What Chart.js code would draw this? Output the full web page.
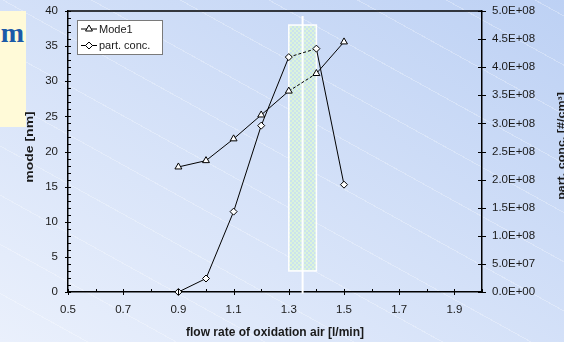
<!DOCTYPE html>
<html>
<head>
<meta charset="utf-8">
<script src="https://cdn.jsdelivr.net/npm/chart.js@4.4.1/dist/chart.umd.min.js"></script>
<style>
  html, body { margin: 0; padding: 0; }
  body {
    width: 564px; height: 342px; overflow: hidden; position: relative;
    background:
      repeating-linear-gradient(29deg, rgba(255,255,255,0) 0px, rgba(255,255,255,0) 42px, rgba(255,255,255,0.28) 42px, rgba(255,255,255,0.28) 43px),
      linear-gradient(to bottom left, #bdd1f4, #eaf0fc);
  }
  #note { position: absolute; left: 0; top: 11px; width: 26px; height: 116px; background: #fffad8; overflow: hidden; }
  #note span { position: absolute; right: 2px; top: 6px; line-height: 1; font: bold 28px "Liberation Serif", serif; color: #1b5aa8; }
  #chart { position: absolute; left: 0; top: 0; }
</style>
</head>
<body>
<div id="note"><span>m</span></div>
<canvas id="chart" width="564" height="342"></canvas>
<script>
(function() {
    // data block
    const flowRate = [0.9, 1.0, 1.1, 1.2, 1.3, 1.4, 1.5]
    const mode1 = [17.8, 18.7, 21.8, 25.2, 28.6, 31.1, 35.6]
    const partConc = [0, 2.4e7, 1.43e8, 2.96e8, 4.18e8, 4.33e8, 1.91e8]
    const seriesNames = ['Mode1', 'part. conc.']
    const dashedFrom = 4 // segment 1.3 -> 1.4 is dashed

    // highlighted band and marker line
    const bandX = [1.3, 1.4]
    const bandY = [3, 38]
    const markerX = 1.35

    const FONT = '"Liberation Sans", Arial, sans-serif'
    const TXT = '#1a1a1a'

    const fmtSci = v => {
        if (v === 0) return '0.0E+00'
        const e = Math.floor(Math.log10(Math.abs(v)) + 1e-9)
        const m = v / Math.pow(10, e)
        return m.toFixed(1) + 'E' + (e < 0 ? '-' : '+') + String(Math.abs(e)).padStart(2, '0')
    }

    // checker pattern for the band
    const pc = document.createElement('canvas')
    pc.width = 4; pc.height = 4
    const pctx = pc.getContext('2d')
    pctx.fillStyle = '#cbe3ee'
    pctx.fillRect(0, 0, 4, 4)
    pctx.fillStyle = '#dcf4da'
    pctx.fillRect(0, 0, 2, 2)
    pctx.fillRect(2, 2, 2, 2)

    const bandPlugin = {
        id: 'band',
        beforeDatasetsDraw(chart) {
            const { ctx, scales: { x, y } } = chart
            const x0 = x.getPixelForValue(bandX[0]), x1 = x.getPixelForValue(bandX[1])
            const y0 = y.getPixelForValue(bandY[1]), y1 = y.getPixelForValue(bandY[0])
            ctx.save()
            ctx.fillStyle = ctx.createPattern(pc, 'repeat')
            ctx.fillRect(x0, y0, x1 - x0, y1 - y0)
            ctx.strokeStyle = '#fff'
            ctx.lineWidth = 1.5
            ctx.strokeRect(x0, y0, x1 - x0, y1 - y0)
            const xm = x.getPixelForValue(markerX)
            ctx.lineWidth = 2
            ctx.beginPath()
            ctx.moveTo(xm, y.getPixelForValue(39.3))
            ctx.lineTo(xm, y.getPixelForValue(-0.2))
            ctx.stroke()
            ctx.restore()
        }
    }

    const frame = {
        id: 'frame',
        afterDraw(chart) {
            const { ctx, chartArea: { top, bottom, left, right }, scales: { x, y, y1 } } = chart
            ctx.save()
            ctx.strokeStyle = '#000'
            ctx.lineWidth = 1.5
            ctx.beginPath()
            ctx.moveTo(left, top); ctx.lineTo(right, top)
            ctx.stroke()
            ctx.lineWidth = 1
            ctx.beginPath()
            // x ticks
            x.ticks.forEach((t, i) => {
                const px = Math.round(x.getPixelForValue(t.value)) + 0.5
                ctx.moveTo(px, bottom - 3)
                ctx.lineTo(px, i % 2 === 0 ? bottom + 3 : bottom)
            })
            // left ticks, minor every 1
            for (let v = 0; v <= 40; v++) {
                const py = Math.round(y.getPixelForValue(v)) + 0.5
                if (v % 5 === 0) { ctx.moveTo(left - 3, py); ctx.lineTo(left + 3, py) }
                else { ctx.moveTo(left, py); ctx.lineTo(left + 3, py) }
            }
            // right ticks
            y1.ticks.forEach(t => {
                const py = Math.round(y1.getPixelForValue(t.value)) + 0.5
                ctx.moveTo(right - 4, py); ctx.lineTo(right + 4, py)
            })
            ctx.stroke()

            // axis titles (vertical, stretched like the original)
            ctx.fillStyle = TXT
            ctx.font = 'bold 10px ' + FONT
            ctx.textAlign = 'center'
            ctx.textBaseline = 'middle'
            ctx.save()
            ctx.translate(30, 147)
            ctx.rotate(-Math.PI / 2)
            ctx.scale(1.4, 1)
            ctx.fillText('mode [nm]', 0, 0)
            ctx.restore()
            ctx.save()
            ctx.translate(562, 146)
            ctx.rotate(-Math.PI / 2)
            ctx.scale(1.25, 1)
            ctx.fillText('part. conc. [#/cm³]', 0, 0)
            ctx.restore()

            // legend
            const lx = 77, ly = 20, lw = 85, lh = 34
            ctx.fillStyle = '#fff'
            ctx.fillRect(lx, ly, lw, lh)
            ctx.strokeStyle = '#7a7a7a'
            ctx.lineWidth = 1
            ctx.strokeRect(lx + 0.5, ly + 0.5, lw, lh)
            const styles = ['triangle', 'rectRot']
            const radii = [4, 3.5]
            seriesNames.forEach((name, i) => {
                const cy = ly + 9 + i * 16.5
                ctx.strokeStyle = '#000'
                ctx.beginPath()
                ctx.moveTo(81, cy); ctx.lineTo(97, cy)
                ctx.stroke()
                ctx.fillStyle = '#fff'
                Chart.helpers.drawPoint(ctx, { pointStyle: styles[i], radius: radii[i], rotation: 0, borderWidth: 1 }, 89, cy)
                ctx.fillStyle = TXT
                ctx.font = '11px ' + FONT
                ctx.textAlign = 'left'
                ctx.fillText(name, 99, cy + 0.5)
            })
            ctx.restore()
        }
    }

    const dashSeg = { borderDash: c => c.p0DataIndex === dashedFrom ? [3, 2] : undefined }

    const config = {
        type: 'line',
        data: {
            datasets: [{
                label: seriesNames[0],
                data: flowRate.map((v, i) => ({ x: v, y: mode1[i] })),
                yAxisID: 'y',
                borderColor: '#000',
                borderWidth: 1,
                pointStyle: 'triangle',
                pointRadius: 4,
                pointBackgroundColor: '#fff',
                pointBorderColor: '#000',
                pointBorderWidth: 1,
                segment: dashSeg,
                clip: false
            }, {
                label: seriesNames[1],
                data: flowRate.map((v, i) => ({ x: v, y: partConc[i] })),
                yAxisID: 'y1',
                borderColor: '#000',
                borderWidth: 1,
                pointStyle: 'rectRot',
                pointRadius: 3.5,
                pointBackgroundColor: '#fff',
                pointBorderColor: '#000',
                pointBorderWidth: 1,
                segment: dashSeg,
                clip: false
            }]
        },
        options: {
            responsive: false,
            animation: false,
            devicePixelRatio: 1,
            layout: { padding: { top: 11, left: 0, right: 0, bottom: 0 } },
            plugins: {
                legend: { display: false },
                tooltip: { enabled: false }
            },
            scales: {
                x: {
                    type: 'linear',
                    min: 0.5, max: 2.0,
                    grid: { display: false },
                    border: { display: true, color: '#000', width: 1.5 },
                    ticks: {
                        stepSize: 0.1, autoSkip: false, maxRotation: 0, padding: 3,
                        color: TXT, font: { family: FONT, size: 11.5 },
                        callback: (v, i) => i % 2 === 0 ? v.toFixed(1) : ''
                    },
                    title: {
                        display: true, text: 'flow rate of oxidation air [l/min]', color: TXT,
                        font: { family: FONT, size: 12, weight: 'bold' }, padding: { top: 0, bottom: 2 }
                    },
                    afterFit: s => { s.height = 50 }
                },
                y: {
                    position: 'left',
                    min: 0, max: 40,
                    grid: { display: false },
                    border: { display: true, color: '#000', width: 1.5 },
                    ticks: { stepSize: 5, padding: 2, color: TXT, font: { family: FONT, size: 11.5 } },
                    afterFit: s => { s.width = 68 }
                },
                y1: {
                    position: 'right',
                    min: 0, max: 5e8,
                    grid: { display: false },
                    border: { display: true, color: '#000', width: 1.5 },
                    ticks: { stepSize: 5e7, padding: 2, color: TXT, font: { family: FONT, size: 11.5 }, callback: v => fmtSci(v) },
                    afterFit: s => { s.width = 82 }
                }
            }
        },
        plugins: [bandPlugin, frame]
    }

    new Chart(document.getElementById('chart'), config)
})()
</script>
</body>
</html>
